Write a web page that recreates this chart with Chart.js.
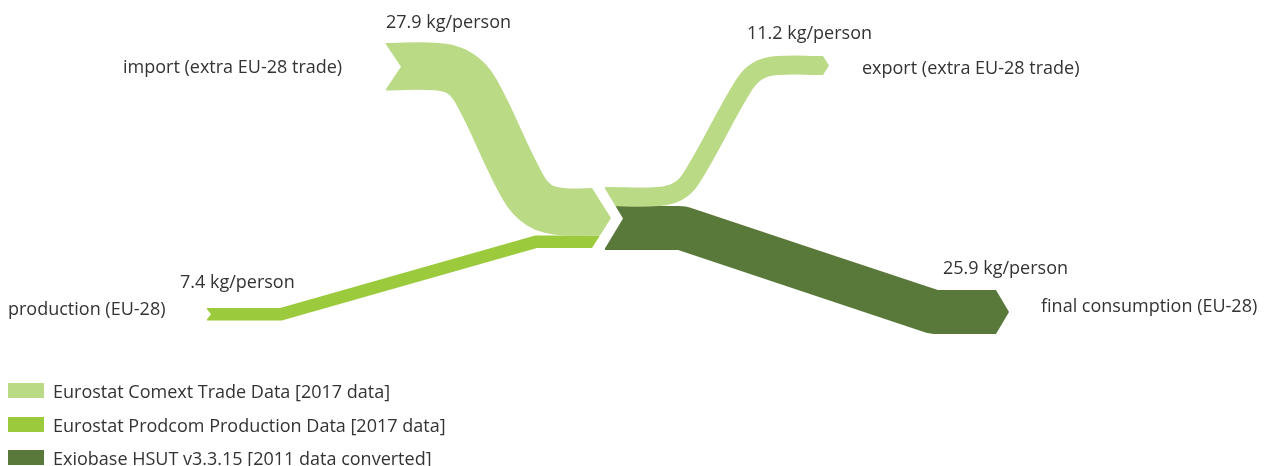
<!DOCTYPE html>
<html>
<head>
<meta charset="utf-8">
<script src="https://cdn.jsdelivr.net/npm/chart.js@4.4.0/dist/chart.umd.min.js"></script>
<style>
  html, body { margin: 0; padding: 0; background: #fff; }
  #wrap {
    position: relative; width: 1273px; height: 466px; overflow: hidden;
    font-family: "Open Sans", sans-serif; font-size: 18px; color: #333;
  }
  #chart { position: absolute; left: 0; top: 0; }
  .lbl { position: absolute; white-space: nowrap; line-height: 18px; }
  .key { position: absolute; left: 8px; width: 36px; height: 15px; }
</style>
</head>
<body>
<div id="wrap">
  <canvas id="chart" width="1273" height="466"></canvas>
  <div id="labels"></div>
</div>
<script>
// data
const flowNames = [
  "import (extra EU-28 trade)",
  "production (EU-28)",
  "export (extra EU-28 trade)",
  "final consumption (EU-28)",
];
const flowValues = [27.9, 7.4, 11.2, 25.9];
const flowSource = [0, 1, 0, 2];
const sourceNames = [
  "Eurostat Comext Trade Data [2017 data]",
  "Eurostat Prodcom Production Data [2017 data]",
  "Exiobase HSUT v3.3.15 [2011 data converted]",
];
const unit = "kg/person";

// layout / style
const KG_PX = 1.7; // band thickness per kg/person (y units)
const COLORS = ["#bbda86", "#9bca3c", "#58793a"];
const INFLOWS = [0, 1];
const OUTFLOWS = [2, 3];
const LEFT_HUB = { x: 592, top: 188, tip: 19 };
const RIGHT_HUB = { x: 605, top: 187, notch: 18 };
const ENDS = [
  { x: 386, top: 43, notch: 15 },
  { x: 207, top: 308, notch: 4 },
  { x: 823, top: 56, tip: 6 },
  { x: 996, top: 290, tip: 13 },
];
const BENDS = [[464, 535], [281, 536], [681, 755], [682, 934]];
const RADII = [44, 6, 38, 20];
const NAME_POS = [[123, 72.5], [8, 315], [862, 74], [1041, 312]];
const VALUE_POS = [[386, 28], [180, 288], [747, 39], [943, 274]];
const LEGEND_TOP = 383, LEGEND_STEP = 33.5;

function thick(i) {
  return flowValues[i] * KG_PX;
}

// replace each inner corner of a polyline with tangent/mid points so the spline rounds it
function roundedRoute(pts, r) {
  const out = [{ x: pts[0][0], y: pts[0][1] }];
  for (let i = 1; i < pts.length - 1; i++) {
    const [px, py] = pts[i - 1], [vx, vy] = pts[i], [nx, ny] = pts[i + 1];
    let ax = vx - px, ay = vy - py;
    const la = Math.hypot(ax, ay); ax /= la; ay /= la;
    let bx = nx - vx, by = ny - vy;
    const lb = Math.hypot(bx, by); bx /= lb; by /= lb;
    const theta = Math.acos(Math.max(-1, Math.min(1, ax * bx + ay * by)));
    const L = r * Math.tan(theta / 2);
    let mx = bx - ax, my = by - ay;
    const lm = Math.hypot(mx, my) || 1; mx /= lm; my /= lm;
    const d = r / Math.cos(theta / 2) - r;
    out.push(
      { x: vx - ax * L, y: vy - ay * L },
      { x: vx + mx * d, y: vy + my * d },
      { x: vx + bx * L, y: vy + by * L }
    );
  }
  const last = pts[pts.length - 1];
  out.push({ x: last[0], y: last[1] });
  return out;
}

function chevron(baseX, tip, top, bottom, y0, y1) {
  const mid = (top + bottom) / 2, half = (bottom - top) / 2;
  const bx = y => baseX + tip * (1 - Math.abs(y - mid) / half);
  const pts = [{ x: baseX - 1, y: y0 }, { x: bx(y0), y: y0 }];
  if (y0 < mid && mid < y1) pts.push({ x: baseX + tip, y: mid });
  pts.push({ x: bx(y1), y: y1 }, { x: baseX - 1, y: y1 });
  return pts;
}

function notch(x, depth, top, bottom) {
  return [
    { x: x - 1, y: top },
    { x: x + depth, y: (top + bottom) / 2 },
    { x: x - 1, y: bottom },
  ];
}

function shape(pts, color, order) {
  return {
    data: pts, fill: "shape", showLine: true, tension: 0,
    backgroundColor: color, borderColor: color, borderWidth: 0,
    pointRadius: 0, order, clip: false,
  };
}

// stack flows at the two hubs
const hubCenter = {};
let acc = LEFT_HUB.top;
INFLOWS.forEach(i => { hubCenter[i] = acc + thick(i) / 2; acc += thick(i); });
const leftBottom = acc;
acc = RIGHT_HUB.top;
OUTFLOWS.forEach(i => { hubCenter[i] = acc + thick(i) / 2; acc += thick(i); });
const rightBottom = acc;

const datasets = [];
flowValues.forEach((v, i) => {
  const end = ENDS[i];
  const endC = end.top + thick(i) / 2;
  const color = COLORS[flowSource[i]];
  const route = INFLOWS.includes(i)
    ? [[end.x, endC], [BENDS[i][0], endC], [BENDS[i][1], hubCenter[i]], [LEFT_HUB.x, hubCenter[i]]]
    : [[RIGHT_HUB.x, hubCenter[i]], [BENDS[i][0], hubCenter[i]], [BENDS[i][1], endC], [end.x, endC]];

  datasets.push({
    label: flowNames[i],
    data: roundedRoute(route, RADII[i]),
    borderColor: color,
    backgroundColor: color,
    borderWidth: ctx => {
      const y = ctx.chart.scales.y;
      return Math.abs(y.getPixelForValue(v * KG_PX) - y.getPixelForValue(0));
    },
    borderCapStyle: "butt",
    borderJoinStyle: "round",
    tension: 0.4,
    fill: false,
    pointRadius: 0,
    order: 5,
    clip: false,
  });

  if (end.notch) datasets.push(shape(notch(end.x, end.notch, end.top, end.top + thick(i)), "#fff", 2));
  if (end.tip) datasets.push(shape(chevron(end.x, end.tip, end.top, end.top + thick(i), end.top, end.top + thick(i)), color, 3));
});

// arrow head of the left hub, split per inflow
INFLOWS.forEach(i => {
  const y0 = hubCenter[i] - thick(i) / 2, y1 = hubCenter[i] + thick(i) / 2;
  datasets.push(shape(chevron(LEFT_HUB.x, LEFT_HUB.tip, LEFT_HUB.top, leftBottom, y0, y1), COLORS[flowSource[i]], 3));
});
// notch of the right hub
datasets.push(shape(notch(RIGHT_HUB.x, RIGHT_HUB.notch, RIGHT_HUB.top, rightBottom), "#fff", 4));

const chart = new Chart(document.getElementById("chart"), {
  type: "line",
  data: { datasets },
  options: {
    responsive: false,
    animation: false,
    events: [],
    layout: { padding: 0 },
    plugins: { legend: { display: false }, tooltip: { enabled: false } },
    scales: {
      x: { type: "linear", min: 0, max: 1273, display: false },
      y: { type: "linear", min: 0, max: 466, reverse: true, display: false },
    },
  },
});

// text labels and legend
const labels = document.getElementById("labels");
function addLabel(text, x, baseline) {
  const d = document.createElement("div");
  d.className = "lbl";
  d.textContent = text;
  d.style.left = chart.scales.x.getPixelForValue(x) + "px";
  d.style.top = chart.scales.y.getPixelForValue(baseline) - 16 + "px";
  labels.appendChild(d);
}
flowNames.forEach((n, i) => {
  addLabel(n, NAME_POS[i][0], NAME_POS[i][1]);
  addLabel(`${flowValues[i]} ${unit}`, VALUE_POS[i][0], VALUE_POS[i][1]);
});
sourceNames.forEach((n, i) => {
  const top = LEGEND_TOP + i * LEGEND_STEP;
  const box = document.createElement("div");
  box.className = "key";
  box.style.top = top + "px";
  box.style.background = COLORS[i];
  labels.appendChild(box);
  const t = document.createElement("div");
  t.className = "lbl";
  t.textContent = n;
  t.style.left = "53px";
  t.style.top = top - 1 + "px";
  labels.appendChild(t);
});
</script>
</body>
</html>
